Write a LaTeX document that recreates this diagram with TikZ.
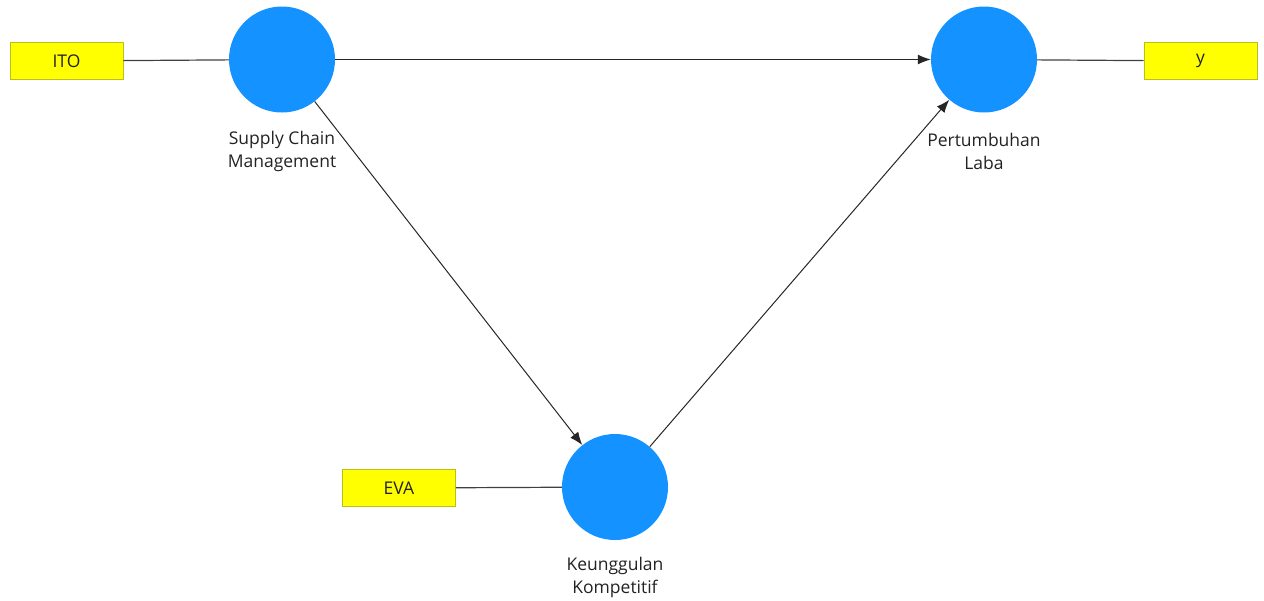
\documentclass[tikz,border=0pt]{standalone}
\usepackage{fontspec}
\setmainfont{Open Sans}
\usetikzlibrary{arrows.meta}
\definecolor{latent}{HTML}{1492FF}
\definecolor{indfill}{HTML}{FFFF00}
\definecolor{indedge}{HTML}{BDBD1E}
\definecolor{txt}{HTML}{222222}
\tikzset{
  construct/.style={circle, fill=latent, draw=none, minimum size=106pt, inner sep=0pt},
  indicator/.style={rectangle, fill=indfill, draw=indedge, line width=0.8pt,
    minimum width=113pt, minimum height=37pt, inner sep=0pt,
    font=\fontsize{17.5pt}{20pt}\selectfont, text=txt},
  caption/.style={align=center, font=\fontsize{17.5pt}{23pt}\selectfont, text=txt, inner sep=0pt},
  path/.style={draw=black!85, line width=1pt, -{Latex[length=13pt,width=10pt]}},
  link/.style={draw=black!75, line width=1.2pt}
}
\begin{document}
\begin{tikzpicture}[x=1pt,y=-1pt]
  \useasboundingbox (0,0) rectangle (1264,600);
  % latent constructs
  \node[construct] (scm) at (282,59.5) {};
  \node[construct] (pl)  at (984,59.5) {};
  \node[construct] (kk)  at (615,487) {};
  % construct names
  \node[caption] (scmlab) at (282,151) {Supply Chain\\Management};
  \node[caption] (pllab)  at (984,151) {Pertumbuhan\\Laba};
  \node[caption] (kklab)  at (615,577) {Keunggulan\\Kompetitif};
  % indicators
  \node[indicator] (ito) at (66.5,61) {ITO};
  \node[indicator] (yy)  at (1200.5,61) {y};
  \node[indicator] (eva) at (399,488) {EVA};
  % measurement links
  \draw[link] (ito) -- (scm);
  \draw[link] (pl) -- (yy);
  \draw[link] (eva) -- (kk);
  % structural paths
  \draw[path] (scm) -- (pl);
  \draw[path] (scm) -- (kk);
  \draw[path] (kk) -- (pl);
\end{tikzpicture}
\end{document}
